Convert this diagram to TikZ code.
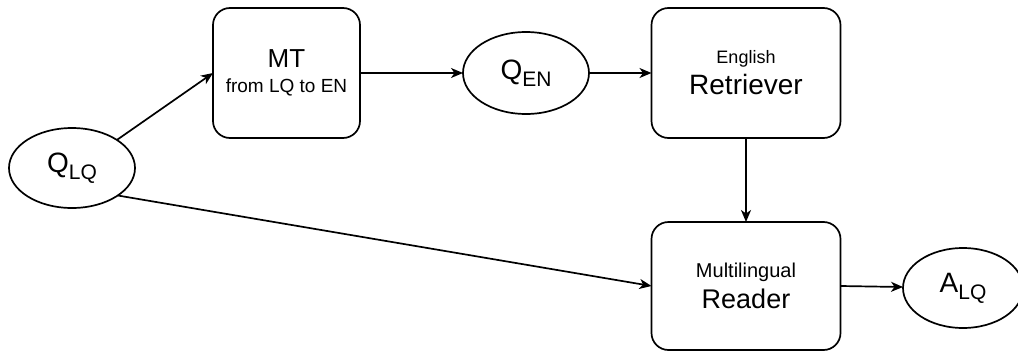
\documentclass[tikz,border=0pt]{standalone}
\usepackage{fontspec}
\setmainfont{Liberation Sans}
\usetikzlibrary{arrows.meta,shapes.geometric}

\newcommand{\fs}[1]{\fontsize{#1}{#1}\selectfont}
\newcommand{\qsub}[2]{{\fs{28}#1}\raisebox{-7pt}{\fs{21}#2}}

\tikzset{
  every node/.style={inner sep=0pt, outer sep=0pt},
  procbox/.style={draw, line width=1.7pt, rounded corners=17pt, align=center},
  token/.style={draw, ellipse, line width=1.7pt, minimum width=126pt, minimum height=80pt},
  flow/.style={line width=1.7pt, -{Stealth[length=12pt,width=10pt,inset=3.5pt]}},
}

\begin{document}
\begin{tikzpicture}[x=1pt, y=-1pt]
\useasboundingbox (0,0) rectangle (1018,351);

% question in the low-resource language
\node[token] (qlq) at (72,168) {\qsub{Q}{LQ}};

% translation step
\node[procbox, minimum width=147pt, minimum height=130pt] (mt) at (286.5,73)
  {{\fs{26}MT}\\[10pt]{\fs{19}from LQ to EN}};

% translated question
\node[token, minimum height=82pt] (qen) at (526,73) {\qsub{Q}{EN}};

% retrieval over English passages
\node[procbox, minimum width=189pt, minimum height=130pt] (ret) at (746,73)
  {{\fs{18}English}\\[6pt]{\fs{28}Retriever}};

% answer extraction
\node[procbox, minimum width=189pt, minimum height=128pt] (rdr) at (746,286)
  {{\fs{20}Multilingual}\\[6pt]{\fs{27}Reader}};

% final answer
\node[token, minimum width=120pt] (alq) at (963,288) {\qsub{A}{LQ}};

% connectors
\draw[flow] (qlq.32) -- (mt.west);
\draw[flow] (mt) -- (qen);
\draw[flow] (qen) -- (ret);
\draw[flow] (ret) -- (rdr);
\draw[flow] (qlq.-31) -- (rdr.west);
\draw[flow] (rdr.east) -- (alq);
\end{tikzpicture}
\end{document}
